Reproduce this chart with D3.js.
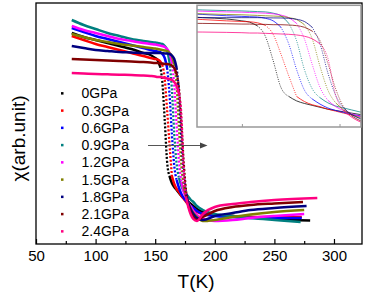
<!DOCTYPE html>
<html><head><meta charset="utf-8">
<script src="https://cdn.jsdelivr.net/npm/d3@7"></script>
<style>
body{margin:0;background:#fff}
svg{display:block}
text{font-family:Arial,"Liberation Sans",sans-serif;fill:#000}
</style>
</head><body>
<svg id="chart" width="368" height="297"></svg>
<script>
// ---- data ----
const pressures = ["0GPa","0.3GPa","0.6GPa","0.9GPa","1.2GPa","1.5GPa","1.8GPa","2.1GPa","2.4GPa"];
const colors = ["#000000","#ff0000","#0000ff","#008080","#ff00ff","#808000","#000080","#800000","#ff0080"];
const temps = [80,90,100,110,120,130,140,146,150,152,154,156,158,160,162,164,166,168,170,172,174,176,178,180,182,185,190,200,215,230,250];
const endTemps = [280,273,273,272,275,275,277,274,286];
const chi0GPa  = [211,207,204,201,198,195,191,189,186,184,178,162,124,82,68,61,57,54,51,48,46,44,42,40,38,35,32,29,28,27,25,23.5];
const chi03GPa = [208,204,200,197,194,191,188,186,185,184.5,183,179,165,134,100,68,60,55,52,48,45,42,39,37,35,32,30,29,28,27,27,27];
const chi06GPa = [216,212,208,205,202,199,196,194,193,192.5,192,190,186,176,150,110,78,64,56,50,46,43,40,38,36,33,30,28,27,26,26,26];
const chi09GPa = [224,219,215,211,208,205,203,202,201.5,201,200.5,200,198,194,182,155,110,80,66,58,53,50,47,44,42,38,34,30,28,26,24,22];
const chi12GPa = [218,214,211,208,205,203,201,200,199.5,199,198.5,198,197,195,191,182,158,118,82,62,52,46,41,37,33,29,25,23,24,26,28,30];
const chi15GPa = [210,207,204,202,200,198.5,197,196,195.5,195,194.5,194,193.5,193,191,188,180,158,115,78,58,47,40,35,31,27,23,24,27,29.5,32,34];
const chi18GPa = [198,196,194,193,192,191.5,191,191,191,191,191,190.8,190.6,190.5,190,188.5,185,176,150,105,70,50,40,34,30,26,24,28,31,34,36,38];
const chi21GPa = [185,184.5,184,183.5,183,182.5,182,181.5,181,181,180.5,180.5,180,180,179.5,178.5,176,170,155,120,80,52,38,31,27,24,27,33,37,39,40.5,42];
const chi24GPa = [171,170.5,170,169.7,169.3,169,168.5,168,167.5,167,167,166.5,166,165.5,165,164,162,158,150,128,70,46,36,29,25,23,30,37,40,42,44,46];
const chiSeries = [chi0GPa,chi03GPa,chi06GPa,chi09GPa,chi12GPa,chi15GPa,chi18GPa,chi21GPa,chi24GPa];
const xTicks = [50,100,150,200,250,300];
const xMinorTicks = [75,125,175,225,275];
const insetTicks = [150,175];

// ---- layout ----
const svg = d3.select("#chart");
const L = 36, R = 362, T = 3, B = 244;
const x = d3.scaleLinear().domain([50, 323.5]).range([L, R]);
const y = d3.scaleLinear().domain([0, 240]).range([B, 4]);

const series = pressures.map((p, i) => ({
  name: p, color: colors[i],
  pts: chiSeries[i].map((c, j) => ({t: j < temps.length ? temps[j] : endTemps[i], c}))
}));

function runs(pts, thr) {
  const out = []; let cur = null;
  for (let i = 0; i < pts.length - 1; i++) {
    const a = pts[i], b = pts[i + 1];
    const steep = Math.abs((b.c - a.c) / (b.t - a.t)) > thr;
    if (!cur || cur.steep !== steep) { cur = {steep, pts: [a]}; out.push(cur); }
    cur.pts.push(b);
  }
  return out;
}

// main curves
const gMain = svg.append("g");
const lineMain = d3.line().x(d => x(d.t)).y(d => y(d.c)).curve(d3.curveMonotoneX);
series.forEach(s => {
  runs(s.pts, 6).forEach(r => {
    gMain.append("path").attr("d", lineMain(r.pts))
      .attr("fill", "none").attr("stroke", s.color)
      .attr("stroke-width", r.steep ? 2.3 : 2.5)
      .attr("stroke-dasharray", r.steep ? "2,1.8" : null)
      .attr("stroke-linecap", "butt");
  });
});

// frame
svg.append("rect").attr("x", L).attr("y", T).attr("width", R - L).attr("height", B - T)
  .attr("fill", "none").attr("stroke", "#000").attr("stroke-width", 1.3);

// x axis
const ax = svg.append("g").attr("transform", `translate(0,${B})`)
  .call(d3.axisBottom(x).tickValues(xTicks).tickSizeInner(-5).tickSizeOuter(0).tickPadding(6).tickFormat(d3.format("d")));
ax.select(".domain").remove();
ax.selectAll("line").attr("stroke", "#000").attr("stroke-width", 1.2);
ax.selectAll("text").style("font-size", "15px").style("font-family", "Arial, 'Liberation Sans', sans-serif").attr("fill", "#000");
const axm = svg.append("g").attr("transform", `translate(0,${B})`)
  .call(d3.axisBottom(x).tickValues(xMinorTicks).tickSizeInner(-3).tickSizeOuter(0).tickFormat(""));
axm.select(".domain").remove();
axm.selectAll("line").attr("stroke", "#000").attr("stroke-width", 1.2);

// axis titles
svg.append("text").attr("x", 196).attr("y", 288).attr("text-anchor", "middle")
  .style("font-size", "19px").text("T(K)");
svg.append("text").attr("transform", "translate(25,138.5) rotate(-90)").attr("text-anchor", "middle")
  .style("font-size", "19px").text("χ(arb.unit)");

// legend
const lg = svg.append("g");
pressures.forEach((p, i) => {
  const cy = 93.3 + i * 17.25;
  lg.append("rect").attr("x", 61).attr("y", cy - 1.2).attr("width", 2.5).attr("height", 2.5).attr("fill", colors[i]);
  lg.append("text").attr("x", 81.5).attr("y", cy + 5).style("font-size", "14px").text(p);
});

// arrow
svg.append("line").attr("x1", 148).attr("x2", 201).attr("y1", 145.5).attr("y2", 145.5)
  .attr("stroke", "#555").attr("stroke-width", 1.2);
svg.append("path").attr("d", "M200,142.6L207.5,145.5L200,148.4Z").attr("fill", "#444");

// inset
const IL = 197, IR = 361, IT = 5.3, IB = 127;
const xi = d3.scaleLinear().domain([138.5, 180.5]).range([IL, IR]);
const yi = d3.scaleLinear().domain([20.2, 210.3]).range([IB, IT]);
svg.append("defs").append("clipPath").attr("id", "insetClip")
  .append("rect").attr("x", IL).attr("y", IT).attr("width", IR - IL).attr("height", IB - IT);
svg.append("rect").attr("x", IL).attr("y", IT).attr("width", IR - IL).attr("height", IB - IT).attr("fill", "#fff");
const gIn = svg.append("g").attr("clip-path", "url(#insetClip)");
const lineIn = d3.line().x(d => xi(d.t)).y(d => yi(d.c)).curve(d3.curveMonotoneX);
series.forEach(s => {
  runs(s.pts, 6).forEach(r => {
    gIn.append("path").attr("d", lineIn(r.pts))
      .attr("fill", "none").attr("stroke", s.color).attr("stroke-opacity", 0.75)
      .attr("stroke-width", 1)
      .attr("stroke-dasharray", r.steep ? "1,1.3" : null);
  });
});
svg.append("rect").attr("x", IL).attr("y", IT).attr("width", IR - IL).attr("height", IB - IT)
  .attr("fill", "none").attr("stroke", "#999").attr("stroke-width", 1.5);
const axi = svg.append("g").attr("transform", `translate(0,${IB})`)
  .call(d3.axisBottom(xi).tickValues(insetTicks).tickSizeInner(-3).tickSizeOuter(0).tickFormat(""));
axi.select(".domain").remove();
axi.selectAll("line").attr("stroke", "#999").attr("stroke-width", 1);
</script>
</body></html>
